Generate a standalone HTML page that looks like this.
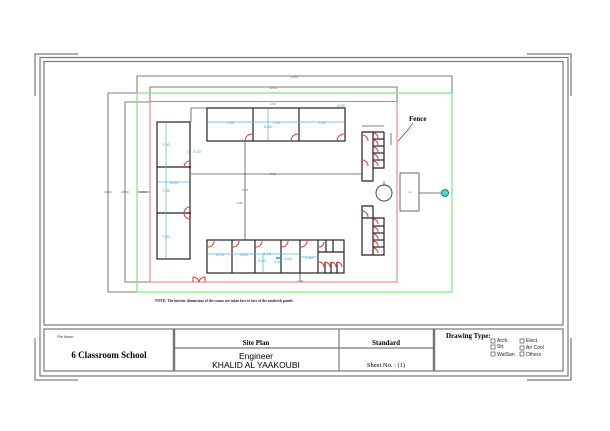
<!DOCTYPE html>
<html><head><meta charset="utf-8"><style>
html,body{margin:0;padding:0;background:#fff;width:610px;height:431px;overflow:hidden}
svg{display:block}
.s{font-family:"Liberation Serif",serif}
.a{font-family:"Liberation Sans",sans-serif}
</style></head><body>
<svg width="610" height="431" viewBox="0 0 610 431" xmlns="http://www.w3.org/2000/svg">
<g fill="none" stroke="#777" stroke-width="1.2">
<polyline points="78,54 35,54 35,96"/>
<polyline points="527,54 571,54 571,96"/>
<polyline points="35,338 35,380 78,380" stroke="#999" stroke-width="1.5"/>
<polyline points="571,338 571,380 527,380"/>
<rect x="40" y="57.5" width="528" height="318.5"/>
<rect x="44" y="61.5" width="519" height="263.5"/>
<rect x="44" y="329" width="519" height="42"/>
<line x1="174" y1="329" x2="174" y2="371" stroke-width="2.5"/>
<line x1="339" y1="329" x2="339" y2="371"/>
<line x1="434" y1="329" x2="434" y2="371" stroke-width="2.5"/>
<line x1="174" y1="348" x2="434" y2="348"/>
</g>
<text x="57" y="338" class="a" font-size="3.5" fill="#333">File Name:</text>
<text x="109" y="358" class="s" font-size="9" font-weight="bold" text-anchor="middle">6 Classroom School</text>
<text x="256" y="345" class="s" font-size="7" font-weight="bold" text-anchor="middle">Site Plan</text>
<text x="386" y="345" class="s" font-size="7" font-weight="bold" text-anchor="middle">Standard</text>
<text x="256" y="359" class="a" font-size="8.5" text-anchor="middle">Engineer</text>
<text x="256" y="368" class="a" font-size="8.5" text-anchor="middle">KHALID AL YAAKOUBI</text>
<text x="386" y="367" class="s" font-size="6.5" text-anchor="middle">Sheet No.  : (1)</text>
<text x="446" y="338" class="s" font-size="7" font-weight="bold">Drawing Type:</text>
<g fill="none" stroke="#333" stroke-width="0.6">
<rect x="491" y="339" width="4" height="4"/><rect x="491" y="345" width="4" height="4"/><rect x="491" y="352" width="4" height="4"/>
<rect x="520" y="339" width="4" height="4"/><rect x="520" y="346" width="4" height="4"/><rect x="520" y="352" width="4" height="4"/>
</g>
<g class="a" font-size="5" fill="#222">
<text x="497" y="342">Arch.</text><text x="497" y="348">Str.</text><text x="497" y="356">WatSan</text>
<text x="526" y="342">Elect.</text><text x="526" y="349">Air Cool</text><text x="526" y="356">Others</text>
</g>
<g fill="none" stroke="#555" stroke-width="0.8">
<polyline points="137,93 137,76 452,76 452,93"/>
<polyline points="150,102 150,87 397,87 397,102"/>
<polyline points="137,93 108,93 108,292 137,292"/>
<polyline points="150,102 125,102 125,282 150,282"/>
<line x1="137" y1="192" x2="150" y2="192"/>
<polyline points="207,108 191,108 191,122"/>
<line x1="191" y1="174" x2="362" y2="174"/>
<line x1="245" y1="141" x2="245" y2="240"/>
<polyline points="300,273 300,282"/>
<line x1="419" y1="193" x2="441" y2="193"/>
<line x1="384" y1="181" x2="384" y2="185"/>
<line x1="362" y1="126" x2="384" y2="126"/>
<line x1="391" y1="133" x2="391" y2="145"/>
</g>
<rect x="137" y="93" width="315" height="199" fill="none" stroke="#7ee57e" stroke-width="1.2"/>
<rect x="150" y="101.5" width="247" height="180.5" fill="none" stroke="#f07070" stroke-width="1"/>
<g class="a" font-size="3" fill="#666" text-anchor="middle">
<text x="294" y="78">33.50</text><text x="273" y="89">30.50</text>
<text x="108" y="193">22.00</text><text x="125" y="193">20.50</text><text x="143" y="193">0.50</text>
<text x="273" y="175">8.00</text><text x="245" y="191">9.50</text><text x="273" y="105">1.50</text>
<text x="300" y="282">1.50</text><text x="410" y="193">ss</text><text x="240" y="204">9.50</text>
</g>
<g fill="none" stroke="#222" stroke-width="1.2">
<rect x="207" y="108" width="138" height="33"/>
<line x1="253" y1="108" x2="253" y2="141"/><line x1="299" y1="108" x2="299" y2="141"/>
<rect x="157" y="122" width="33" height="137"/>
<line x1="157" y1="167" x2="190" y2="167"/><line x1="157" y1="213" x2="190" y2="213"/>
<rect x="207" y="240" width="137" height="33"/>
<line x1="232" y1="240" x2="232" y2="273"/><line x1="255" y1="240" x2="255" y2="273"/>
<line x1="281" y1="240" x2="281" y2="273"/><line x1="300" y1="240" x2="300" y2="273"/>
<line x1="318" y1="240" x2="318" y2="273"/><line x1="318" y1="252" x2="344" y2="252"/>
<line x1="326" y1="240" x2="326" y2="252"/><line x1="333" y1="240" x2="333" y2="252"/>
<line x1="325" y1="262" x2="325" y2="273"/><line x1="331" y1="262" x2="331" y2="273"/><line x1="337" y1="262" x2="337" y2="273"/>
<polyline points="384,132 362,132 362,181 373,181 373,168 384,168 384,132"/>
<line x1="373" y1="132" x2="373" y2="168"/>
<line x1="373" y1="139" x2="384" y2="139"/><line x1="373" y1="146" x2="384" y2="146"/>
<line x1="373" y1="153" x2="384" y2="153"/><line x1="373" y1="160" x2="384" y2="160"/>
<polyline points="373,218 362,218 362,206 373,206 373,218 384,218 384,255 362,255 362,218"/>
<line x1="373" y1="218" x2="373" y2="255"/>
<line x1="373" y1="226" x2="384" y2="226"/><line x1="373" y1="233" x2="384" y2="233"/>
<line x1="373" y1="240" x2="384" y2="240"/><line x1="373" y1="247" x2="384" y2="247"/>
</g>
<rect x="400" y="173" width="19" height="38" fill="none" stroke="#444" stroke-width="0.8"/>
<circle cx="384" cy="193" r="8" fill="none" stroke="#333" stroke-width="0.9"/>
<circle cx="445" cy="193" r="3.5" fill="#3dd" stroke="#155" stroke-width="0.8"/>
<g stroke="#5ab4d6" stroke-width="0.7" fill="none">
<line x1="208" y1="122" x2="344" y2="122"/><line x1="268" y1="109" x2="268" y2="140"/>
<line x1="166" y1="123" x2="166" y2="258"/><line x1="158" y1="182" x2="189" y2="182"/>
<line x1="208" y1="254" x2="299" y2="254"/><line x1="301" y1="257" x2="317" y2="257"/>
<line x1="263" y1="254" x2="263" y2="272"/><line x1="280" y1="258" x2="276" y2="258" stroke-width="2"/>
<line x1="187" y1="152" x2="190" y2="152"/>
</g>
<g class="a" font-size="4" fill="#3a9ec6" text-anchor="middle">
<text x="230" y="124">7.00</text><text x="276" y="124">7.00</text><text x="322" y="124">7.00</text>
<text x="268" y="128">5.00</text><text x="166" y="146">7.00</text><text x="174" y="184">5.00</text>
<text x="166" y="192">7.00</text><text x="166" y="238">7.00</text><text x="197" y="153">0.00</text>
<text x="341" y="107">0.05</text><text x="220" y="256">3.70</text><text x="244" y="256">3.60</text>
<text x="267" y="255">3.70</text><text x="262" y="262">5.00</text><text x="288" y="260">3.60</text>
<text x="309" y="259">2.60</text><text x="278" y="263">0.60</text>
</g>
<g fill="none" stroke="#e33" stroke-width="1">
<path d="M245,141 a7,7 0 0 1 7,-7"/><path d="M291,141 a7,7 0 0 1 7,-7"/><path d="M337,141 a7,7 0 0 1 7,-7"/>
<path d="M190,161 a6,6 0 0 0 -6,6"/><path d="M190,207 a6,6 0 0 0 -6,6"/><path d="M190,219 a6,6 0 0 1 -6,-6"/>
<path d="M208,247 a6,6 0 0 0 6,-6"/><path d="M233,247 a6,6 0 0 0 6,-6"/><path d="M256,247 a6,6 0 0 0 6,-6"/>
<path d="M282,247 a6,6 0 0 0 6,-6"/><path d="M301,247 a6,6 0 0 0 6,-6"/><path d="M319,247 a5,5 0 0 0 5,-5"/>
<path d="M319,262 a5,5 0 0 1 5,5"/><path d="M325,262 a5,5 0 0 1 5,5"/><path d="M331,262 a5,5 0 0 1 5,5"/><path d="M337,262 a5,5 0 0 1 5,5"/>
<path d="M362,135 a6,6 0 0 1 6,6"/><path d="M362,160 a6,6 0 0 1 6,6"/><path d="M362,211 a6,6 0 0 1 6,6"/>
<path d="M373,133 a5,5 0 0 1 5,5"/><path d="M373,140 a5,5 0 0 1 5,5"/><path d="M373,147 a5,5 0 0 1 5,5"/><path d="M373,154 a5,5 0 0 1 5,5"/><path d="M373,161 a5,5 0 0 1 5,5"/>
<path d="M373,219 a5,5 0 0 1 5,5"/><path d="M373,227 a5,5 0 0 1 5,5"/><path d="M373,234 a5,5 0 0 1 5,5"/><path d="M373,241 a5,5 0 0 1 5,5"/><path d="M373,248 a5,5 0 0 1 5,5"/>
<path d="M193,282 l0,-5 a6,6 0 0 1 6,5 a6,6 0 0 1 6,-5 l0,5"/>
</g>
<g stroke="#a00" stroke-width="1.6">
<line x1="189" y1="167" x2="191" y2="167"/><line x1="189" y1="213" x2="191" y2="213"/>
</g>
<text x="409" y="121" class="s" font-size="7" font-weight="bold">Fence</text>
<polyline points="413,123 408,130 398,141" fill="none" stroke="#333" stroke-width="0.6"/>
<text x="155" y="302" class="s" font-size="3.6" font-weight="bold" fill="#222">NOTE: The interior dimensions of the rooms are taken face to face of the sandwich panels</text>
</svg>
</body></html>
